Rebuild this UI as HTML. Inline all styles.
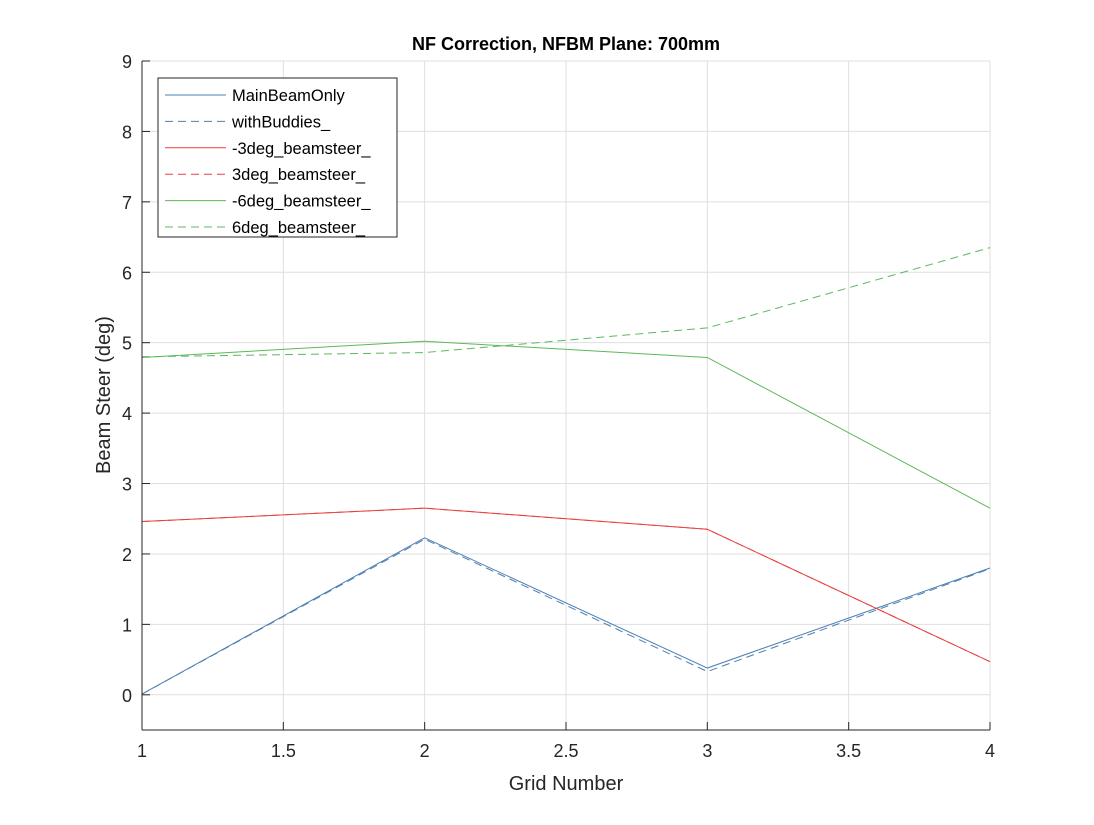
<!DOCTYPE html>
<html><head><meta charset="utf-8"><style>
body{margin:0;background:#fff;font-family:"Liberation Sans",Arial,sans-serif}
svg text{font-family:"Liberation Sans",Arial,sans-serif;fill:#262626}
</style></head><body>
<svg id="chart" width="1094" height="820" viewBox="0 0 1094 820" xmlns="http://www.w3.org/2000/svg">
<rect width="1094" height="820" fill="#fff"/>
<g id="grid"></g>
<g id="series"></g>
<line x1="142" y1="61" x2="142" y2="730" stroke="#262626"/>
<line x1="142" y1="730" x2="990" y2="730" stroke="#262626"/>
<g id="ticks"></g>
<text x="566" y="50" text-anchor="middle" font-size="18" font-weight="bold" style="fill:#000">NF Correction, NFBM Plane: 700mm</text>
<text x="566" y="790" text-anchor="middle" font-size="20">Grid Number</text>
<text x="110" y="395" text-anchor="middle" font-size="20" transform="rotate(-90 110 395)">Beam Steer (deg)</text>
<g id="legend"></g>
</svg>
<script>
const categories=[1,2,3,4];
const seriesNames=["MainBeamOnly","withBuddies_","-3deg_beamsteer_","3deg_beamsteer_","-6deg_beamsteer_","6deg_beamsteer_"];
const mainBeamOnly=[0.01,2.23,0.38,1.80];
const withBuddies=[0.01,2.21,0.33,1.79];
const neg3deg=[2.46,2.65,2.35,0.47];
const pos3deg=[2.46,2.65,2.35,0.47];
const neg6deg=[4.79,5.02,4.79,2.65];
const pos6deg=[4.80,4.86,5.21,6.35];
const xTicks=[1,1.5,2,2.5,3,3.5,4];
const yTicks=[0,1,2,3,4,5,6,7,8,9];

const NS="http://www.w3.org/2000/svg";
const X0=142,X1=990,Y0=730,Y1=61,xmin=1,xmax=4,ymin=-0.5,ymax=9;
const xs=v=>X0+(v-xmin)/(xmax-xmin)*(X1-X0);
const ys=v=>Y0-(v-ymin)/(ymax-ymin)*(Y0-Y1);
function mk(t,a,p){const e=document.createElementNS(NS,t);for(const k in a)e.setAttribute(k,a[k]);p.appendChild(e);return e;}
const grid=document.getElementById('grid'),ticks=document.getElementById('ticks');
xTicks.forEach(t=>{const x=xs(t);
 const g=mk('line',{x1:x,x2:x,y1:Y0,y2:Y1,stroke:'#dfdfdf'},grid);
 
 
 mk('line',{x1:x,x2:x,y1:Y0,y2:Y0-8,stroke:'#262626'},ticks);
 const l=mk('text',{x:x,y:Y0+27,'text-anchor':'middle','font-size':'18'},ticks);l.textContent=t;
 
 });
yTicks.forEach(t=>{const y=ys(t);
 const g=mk('line',{x1:X0,x2:X1,y1:y,y2:y,stroke:'#dfdfdf'},grid);
 
 
 mk('line',{x1:X0,x2:X0+8,y1:y,y2:y,stroke:'#262626'},ticks);
 const l=mk('text',{x:X0-10,y:y+7,'text-anchor':'end','font-size':'18'},ticks);l.textContent=t;
 
 });
const data=[mainBeamOnly,withBuddies,neg3deg,pos3deg,neg6deg,pos6deg];
const colors=['#4d7fb3','#4d7fb3','#e84040','#e84040','#5cb85c','#5cb85c'];
const dashes=['none','8,5','none','8,5','none','8,5'];
const sg=document.getElementById('series');
data.forEach((arr,i)=>{
 const pts=arr.map((v,j)=>xs(categories[j])+','+ys(v)).join(' ');
 const p=mk('polyline',{points:pts,fill:'none',stroke:colors[i],'stroke-width':'1','stroke-dasharray':dashes[i]},sg);
 
 });
const lg=document.getElementById('legend');
mk('rect',{x:158,y:78,width:239,height:159,fill:'#fff',stroke:'#262626'},lg);
seriesNames.forEach((n,i)=>{const y=95+i*26.4;
 const l=mk('line',{x1:165,x2:226,y1:y,y2:y,stroke:colors[i],'stroke-dasharray':dashes[i]},lg);
 
 
 const t=mk('text',{x:232,y:y+6,'font-size':'16.5','style':'fill:#000'},lg);t.textContent=n;
 
 });
</script>
</body></html>
